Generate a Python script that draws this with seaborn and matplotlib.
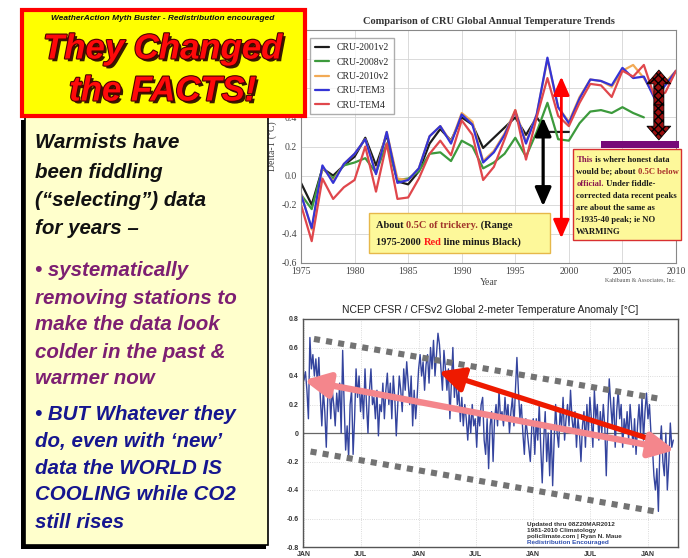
import matplotlib.pyplot as plt
import matplotlib.patheffects as pe
import numpy as np
import pandas as pd
import seaborn as sns
from matplotlib.patches import Rectangle

# top chart: CRU annual anomalies
years = list(range(1975, 2011))
cru_2001v2 = [-0.05, -0.20, 0.05, 0.00, 0.07, 0.13, 0.26, 0.07, 0.28, -0.04,
              -0.06, 0.03, 0.22, 0.32, 0.24, 0.40, 0.35, 0.19, 0.26, 0.33,
              0.40, 0.28, 0.40, 0.30, 0.30, 0.30]
cru_2008v2 = [-0.13, -0.23, 0.05, -0.02, 0.07, 0.09, 0.12, 0.02, 0.22, -0.03,
              -0.02, 0.03, 0.15, 0.16, 0.10, 0.24, 0.20, 0.05, 0.09, 0.15,
              0.26, 0.13, 0.30, 0.50, 0.25, 0.24, 0.36, 0.44, 0.45, 0.43,
              0.47, 0.43, 0.40]
cru_2010v2 = [-0.12, -0.37, 0.06, -0.04, 0.08, 0.15, 0.25, 0.02, 0.30, -0.02,
              -0.03, 0.05, 0.27, 0.34, 0.23, 0.43, 0.37, 0.10, 0.17, 0.29,
              0.45, 0.23, 0.42, 0.80, 0.47, 0.37, 0.54, 0.66, 0.65, 0.61,
              0.72, 0.76, 0.67, 0.55, 0.64, 0.72]
cru_tem3 = [-0.13, -0.36, 0.07, -0.05, 0.08, 0.15, 0.25, 0.01, 0.30, -0.05,
            -0.03, 0.05, 0.27, 0.34, 0.22, 0.42, 0.35, 0.09, 0.16, 0.28,
            0.44, 0.22, 0.42, 0.81, 0.47, 0.36, 0.53, 0.66, 0.65, 0.62,
            0.74, 0.67, 0.68, 0.53, 0.62, 0.72]
cru_tem4 = [-0.20, -0.45, -0.02, -0.16, -0.08, -0.03, 0.20, -0.11, 0.22, -0.16,
            -0.15, -0.02, 0.15, 0.24, 0.14, 0.38, 0.28, -0.03, 0.06, 0.25,
            0.45, 0.11, 0.40, 0.67, 0.41, 0.34, 0.50, 0.63, 0.62, 0.54,
            0.72, 0.68, 0.76, 0.54, 0.57, 0.72]
series_names = ['CRU-2001v2', 'CRU-2008v2', 'CRU-2010v2', 'CRU-TEM3', 'CRU-TEM4']
series_colors = ['#1c1c1c', '#3c9a3c', '#f2aa55', '#3434d6', '#e0474c']

# bottom chart: NCEP CFSR daily anomaly (Jan 2009 - Mar 2012)
ncep_anom = [
    0.37, 0.43, 0.30, 0.10, 0.67, 0.45, 0.55, 0.40, 0.52,
    0.35, 0.53, 0.25, 0.05, 0.30, 0.15, -0.10, 0.25, 0.35,
    0.10, 0.30, 0.20, 0.05, 0.28, 0.15, 0.35, 0.00, 0.58,
    0.20, -0.12, 0.05, -0.17, 0.20, 0.30, -0.15, 0.10, 0.45,
    0.25, 0.40, 0.15, 0.30, 0.10, 0.45, 0.20, 0.00, 0.30,
    0.45, 0.20, 0.25, 0.10, 0.30, -0.02, 0.20, 0.15, 0.35,
    0.10, 0.30, 0.42, 0.20, 0.35, 0.10, 0.40, 0.25, -0.02,
    0.20, 0.40, 0.30, 0.15, 0.45, 0.30, 0.50, 0.35, 0.20,
    0.40, 0.05, 0.30, 0.10, 0.25, 0.45, 0.55, 0.40, 0.50,
    0.30, 0.48, 0.55, 0.35, 0.60, 0.45, 0.65, 0.40, 0.55,
    0.70, 0.62, 0.45, 0.30, 0.58, 0.45, 0.30, 0.45, 0.10,
    0.35, 0.60, 0.25, 0.40, 0.20, 0.30, 0.08, 0.25, 0.05,
    0.20, 0.10, -0.05, 0.15, 0.00, 0.20, 0.05, 0.10, -0.10,
    0.15, 0.05, 0.20, 0.25, -0.05, -0.15, 0.10, -0.25, 0.05,
    0.15, -0.20, 0.10, 0.20, 0.05, 0.30, 0.10, 0.15, 0.05,
    0.25, 0.10, 0.20, 0.00, 0.15, 0.25, 0.05, 0.30, 0.53,
    0.30, 0.10, 0.20, 0.00, -0.15, 0.10, 0.00, -0.10, -0.20,
    0.05, 0.10, -0.15, 0.10, -0.05, 0.20, -0.10, -0.35, -0.05,
    0.15, -0.20, 0.00, -0.30, 0.05, -0.37, -0.05, 0.20, 0.00,
    -0.10, 0.15, 0.05, 0.25, -0.05, 0.10, 0.20, 0.05, 0.30,
    0.10, 0.00, 0.15, -0.10, 0.10, 0.00, -0.20, 0.05, 0.15,
    -0.10, 0.20, 0.00, 0.25, 0.10, -0.10, 0.30, 0.10, 0.20,
    -0.05, 0.15, 0.00, 0.20, 0.05, -0.30, 0.10, 0.38, 0.20,
    0.05, 0.25, -0.10, 0.15, 0.30, 0.10, 0.20, -0.10, 0.10,
    0.00, 0.15, -0.05, 0.20, 0.05, -0.10, 0.10, -0.15, 0.05,
    0.20, 0.00, 0.25, -0.05, 0.15, 0.28, 0.10, 0.20, 0.00,
    -0.10, -0.30, -0.40, -0.25, -0.55, -0.10, 0.05, -0.20, -0.30,
    0.00, -0.40, -0.20, 0.07, -0.10, -0.05,
]
ncep_last_day = 1175
month_ticks = [0, 181, 365, 546, 730, 911, 1095]
month_labels = ['JAN', 'JUL', 'JAN', 'JUL', 'JAN', 'JUL', 'JAN']
anom_ticks = [0.8, 0.6, 0.4, 0.2, 0.0, -0.2, -0.4, -0.6, -0.8]
anom_labels = ['0.8', '0.6', '0.4', '0.2', '0', '-0.2', '-0.4', '-0.6', '-0.8']

left_lines = [
    ('Warmists have', '#111111'), ('been fiddling', '#111111'),
    ('(\u201cselecting\u201d) data', '#111111'), ('for years \u2013', '#111111'),
    ('\u2022 systematically', '#7d1f72'), ('removing stations to', '#7d1f72'),
    ('make the data look', '#7d1f72'), ('colder in the past &', '#7d1f72'),
    ('warmer now', '#7d1f72'),
    ('\u2022 BUT Whatever they', '#16168f'), ('do, even with \u2018new\u2019', '#16168f'),
    ('data the WORLD IS', '#16168f'), ('COOLING while CO2', '#16168f'),
    ('still rises', '#16168f'),
]

SERIF = 'Liberation Serif'
SANS = 'Liberation Sans'


def montar_cru():
    valores = [cru_2001v2, cru_2008v2, cru_2010v2, cru_tem3, cru_tem4]
    partes = []
    for nome, v in zip(series_names, valores):
        partes.append(pd.DataFrame({'ano': years[:len(v)], 'delta': v, 'serie': nome}))
    return pd.concat(partes, ignore_index=True)


def chain_text(ax, x, y, pieces, **kw):
    first, color = pieces[0]
    t = ax.text(x, y, first, color=color, va='center', **kw)
    for txt, color in pieces[1:]:
        t = ax.annotate(txt, xy=(1, 0), xycoords=t, va='bottom', color=color, **kw)
    return t


def plot_cru(ax):
    df = montar_cru()
    sns.lineplot(data=df, x='ano', y='delta', hue='serie', hue_order=series_names,
                 palette=dict(zip(series_names, series_colors)), lw=1.6, ax=ax)
    leg = ax.get_legend()
    handles, labels = leg.legend_handles, [t.get_text() for t in leg.get_texts()]
    ax.legend(handles, labels, loc='upper left', bbox_to_anchor=(0.012, 0.985),
              prop={'family': SERIF, 'size': 7}, frameon=True, fancybox=False,
              edgecolor='#999999', handlelength=1.4, labelspacing=0.55, borderpad=0.5)

    ax.set_xlim(1975, 2010)
    ax.set_ylim(-0.6, 1.0)
    ax.set_xticks([1975, 1980, 1985, 1990, 1995, 2000, 2005, 2010])
    ax.set_yticks([-0.6, -0.4, -0.2, 0.0, 0.2, 0.4, 0.6, 0.8, 1.0])
    ax.yaxis.set_major_formatter(plt.FormatStrFormatter('%.1f'))
    ax.grid(True, color='#d4d4d4', lw=0.6)
    ax.tick_params(direction='in', length=3, labelsize=7, colors='#444444', pad=3)
    for lab in ax.get_xticklabels() + ax.get_yticklabels():
        lab.set_family(SERIF)
    for s in ax.spines.values():
        s.set_color('#888888')
        s.set_linewidth(0.8)
    ax.set_title('Comparison of CRU Global Annual Temperature Trends', family=SERIF,
                 fontsize=7.5, fontweight='bold', color='#333333', pad=4)
    ax.set_xlabel('Year', family=SERIF, fontsize=7, color='#444444', labelpad=1)
    ax.set_ylabel('Delta-T (\u00b0C)', family=SERIF, fontsize=7, color='#444444', labelpad=2)
    ax.text(1.0, -0.072, 'Kahlbaum & Associates, Inc.', transform=ax.transAxes,
            ha='right', va='center', family=SERIF, fontsize=4.3, color='#555555')

    # annotation arrows
    ax.annotate('', xy=(1997.6, 0.40), xytext=(1997.6, -0.21),
                arrowprops=dict(arrowstyle='<|-|>,head_length=0.8,head_width=0.35',
                                mutation_scale=14, color='black', lw=2.3,
                                shrinkA=0, shrinkB=0), zorder=6)
    ax.annotate('', xy=(1999.3, 0.68), xytext=(1999.3, -0.43),
                arrowprops=dict(arrowstyle='<|-|>,head_length=0.8,head_width=0.35',
                                mutation_scale=14, color='#ff0000', lw=2.0,
                                shrinkA=0, shrinkB=0), zorder=6)
    for end in (0.725, 0.245):
        ax.annotate('', xy=(2008.4, end), xytext=(2008.4, 0.485),
                    arrowprops=dict(arrowstyle='simple,head_length=1.1,head_width=1.9,tail_width=0.8',
                                    mutation_scale=9, fc='#9a0e0e', ec='black', lw=0.6,
                                    hatch='xxxx', shrinkA=0, shrinkB=0), zorder=6)
    ax.add_patch(Rectangle((2003.0, 0.19), 7.3, 0.05, fc='#760a78', ec='none',
                           clip_on=False, zorder=6))

    # yellow note boxes
    ax.add_patch(Rectangle((1981.3, -0.53), 16.9, 0.27, fc='#fdf89a', ec='#e6b84a',
                           lw=1.0, clip_on=False, zorder=7))
    kw = dict(family=SERIF, fontsize=7.5, fontweight='bold', zorder=8)
    chain_text(ax, 1982.0, -0.34, [('About ', '#1a1a1a'), ('0.5C of trickery.', '#a0352a'),
                                   (' (Range', '#1a1a1a')], **kw)
    chain_text(ax, 1982.0, -0.46, [('1975-2000 ', '#1a1a1a'), ('Red', '#ff1a1a'),
                                   (' line minus Black)', '#1a1a1a')], **kw)

    ax.add_patch(Rectangle((2000.4, -0.44), 10.1, 0.62, fc='#fdf89a', ec='#d83030',
                           lw=1.0, clip_on=False, zorder=7))
    kw = dict(family=SERIF, fontsize=6.2, fontweight='bold', zorder=8)
    note = [
        [('This', '#8a1850'), (' is where honest data', '#1a1a1a')],
        [('would be; about ', '#1a1a1a'), ('0.5C below', '#a8302a')],
        [('official.', '#8a1850'), (' Under fiddle-', '#1a1a1a')],
        [('corrected data recent peaks', '#1a1a1a')],
        [('are about the same as', '#1a1a1a')],
        [('~1935-40 peak; ie NO', '#1a1a1a')],
        [('WARMING', '#1a1a1a')],
    ]
    for i, pieces in enumerate(note):
        chain_text(ax, 2000.7, 0.11 - i * 0.083, pieces, **kw)


def plot_ncep(ax):
    dias = np.linspace(0, ncep_last_day, len(ncep_anom))
    df = pd.DataFrame({'dia': dias, 'anom': ncep_anom})
    ax.axhline(0, color='#666666', lw=0.9, zorder=1)
    sns.lineplot(data=df, x='dia', y='anom', color='#34449e', lw=1.0, ax=ax, zorder=2)

    ax.set_xlim(-3, 1190)
    ax.set_ylim(-0.8, 0.8)
    ax.set_xticks(month_ticks)
    ax.set_xticklabels(month_labels)
    ax.set_yticks(anom_ticks)
    ax.set_yticklabels(anom_labels)
    ax.set_xlabel('')
    ax.set_ylabel('')
    ax.grid(True, color='#d0d0d0', lw=0.6, ls=':')
    ax.tick_params(length=2, labelsize=5, colors='#333333', pad=1)
    for lab in ax.get_xticklabels() + ax.get_yticklabels():
        lab.set_family(SANS)
        lab.set_fontweight('bold')
    for s in ax.spines.values():
        s.set_color('#555555')
        s.set_linewidth(1.0)
    ax.set_title('NCEP CFSR / CFSv2 Global 2-meter Temperature Anomaly [\u00b0C]',
                 family=SANS, fontsize=7.5, color='#222222', pad=4)

    info = [('Updated thru 08Z20MAR2012', '#333333'), ('1981-2010 Climatology', '#333333'),
            ('policlimate.com | Ryan N. Maue', '#333333'), ('Redistribution Encouraged', '#3050b0')]
    for i, (txt, col) in enumerate(info):
        ax.text(709, -0.645 - i * 0.04, txt, family=SANS, fontsize=4.6,
                fontweight='bold', color=col, va='center')

    # trend channel and arrows drawn over the data
    ax.plot([32, 1132], [0.66, 0.24], color='#737373', lw=4.4, ls=(0, (1, 1)),
            solid_capstyle='butt', clip_on=False, zorder=4)
    ax.plot([21, 1116], [-0.13, -0.55], color='#737373', lw=4.4, ls=(0, (1, 1)),
            solid_capstyle='butt', clip_on=False, zorder=4)
    ax.annotate('', xy=(429, 0.43), xytext=(1127, -0.06),
                arrowprops=dict(arrowstyle='-|>,head_length=1.0,head_width=0.5',
                                mutation_scale=15, color='#ee1a00', lw=3.8,
                                shrinkA=0, shrinkB=0), zorder=5)
    ax.annotate('', xy=(0, 0.37), xytext=(1180, -0.12),
                arrowprops=dict(arrowstyle='<|-|>,head_length=1.0,head_width=0.5',
                                mutation_scale=15, color='#f4868c', lw=4.6,
                                shrinkA=0, shrinkB=0), annotation_clip=False, zorder=6)


def plot_panels(ov):
    ov.set_xlim(0, 688)
    ov.set_ylim(558, 0)
    ov.axis('off')

    # left text panel
    ov.add_patch(Rectangle((21, 120), 245, 429, fc='black', ec='none'))
    ov.add_patch(Rectangle((25, 117), 243, 428, fc='#ffffcc', ec='black', lw=1.2))
    ys = [143, 172, 201, 229, 270, 298, 325, 352, 378, 415, 442, 468, 495, 522]
    for (txt, col), y in zip(left_lines, ys):
        ov.text(35, y, txt, color=col, family=SANS, fontsize=14.8, fontweight='bold',
                style='italic', va='center', ha='left')

    # title box
    ov.add_patch(Rectangle((22, 10), 283, 106, fc='#ffff00', ec='#ff0000', lw=3))
    ov.text(163, 18, 'WeatherAction Myth Buster - Redistribution encouraged',
            family=SANS, fontsize=6, fontweight='bold', style='italic',
            color='#111111', ha='center', va='center')
    efeitos = [pe.SimplePatchShadow(offset=(2, -2), shadow_rgbFace='#200000', alpha=0.9),
               pe.Stroke(linewidth=1.6, foreground='#4a0000'), pe.Normal()]
    for txt, y in [('They Changed', 49), ('the FACTS!', 91)]:
        ov.text(163, y, txt, family=SANS, fontsize=25, fontweight='bold', style='italic',
                color='#ff0a0a', ha='center', va='center', path_effects=efeitos)


if __name__ == '__main__':
    sns.set_style('white')
    plt.rcParams['font.family'] = ['DejaVu Sans']
    fig = plt.figure(figsize=(6.88, 5.58), dpi=100)
    ax_top = fig.add_axes([301 / 688, 1 - 263 / 558, 375 / 688, 233 / 558])
    ax_bot = fig.add_axes([303 / 688, 1 - 547 / 558, 375 / 688, 228 / 558])
    ov = fig.add_axes([0, 0, 1, 1], zorder=10)
    ov.patch.set_alpha(0)
    plot_cru(ax_top)
    plot_ncep(ax_bot)
    plot_panels(ov)
    fig.savefig('out.png', dpi=100)
